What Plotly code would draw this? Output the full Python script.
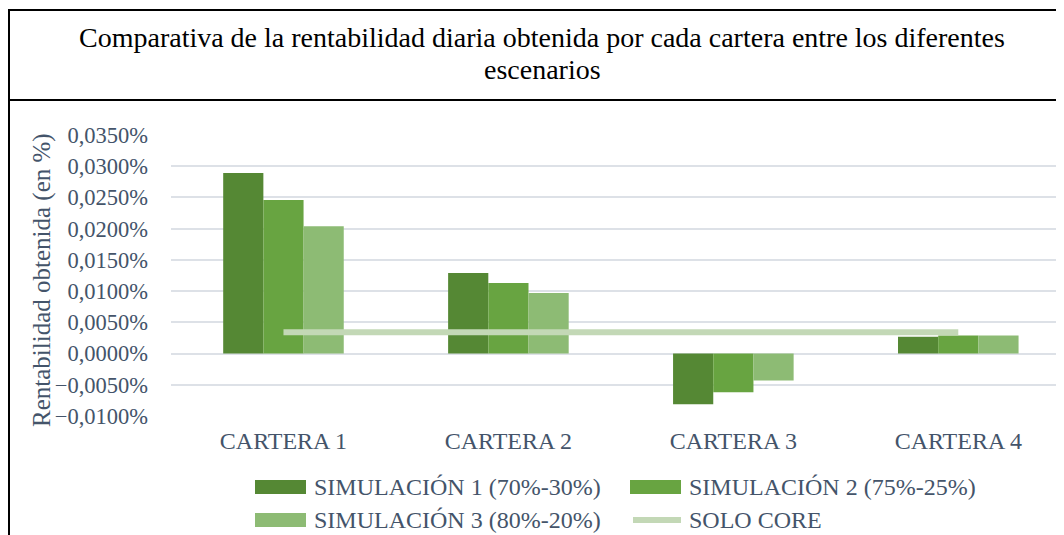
import plotly.graph_objects as go

carteras = ['CARTERA 1', 'CARTERA 2', 'CARTERA 3', 'CARTERA 4']
series = ['SIMULACIÓN 1 (70%-30%)', 'SIMULACIÓN 2 (75%-25%)', 'SIMULACIÓN 3 (80%-20%)']
sim1 = [0.0289, 0.0129, -0.0081, 0.0027]
sim2 = [0.0246, 0.0113, -0.0062, 0.0029]
sim3 = [0.0204, 0.0097, -0.0043, 0.0029]
solo_core = [0.0034, 0.0034, 0.0034, 0.0034]
nombre_core = 'SOLO CORE'
titulo = ['Comparativa de la rentabilidad diaria obtenida por cada cartera entre los diferentes',
          'escenarios']
titulo_y = 'Rentabilidad obtenida (en %)'

COLORES = ['#558834', '#68a441', '#8dbb74']
COR_CORE = '#c3d8b6'
COR_TEXTO = '#44546a'
FUENTE = 'Liberation Serif'

# el div de plotly queda desplazado 8px por el margen del body
OFF = 8
W, H = 1056, 527
L, R, T, B = 163, 0, 127, 119
pw, ph = W - L - R, H - T - B


def px(xs):
    # coordenada de pantalla -> paper
    return (xs - OFF - L) / pw


def py(ys):
    return (H - B - (ys - OFF)) / ph


fig = go.Figure()
for nombre, vals, col in zip(series, [sim1, sim2, sim3], COLORES):
    fig.add_trace(go.Bar(x=carteras, y=vals, name=nombre, marker_color=col,
                         marker_line_width=0, showlegend=False))

fig.add_trace(go.Scatter(x=carteras, y=solo_core, name=nombre_core, mode='lines',
                         line=dict(color=COR_CORE, width=6), showlegend=False))

# marco del gráfico y caja del título
borde = dict(color='black', width=2)
fig.add_shape(type='line', xref='paper', yref='paper', x0=px(9), x1=px(1070), y0=py(10), y1=py(10), line=borde)
fig.add_shape(type='line', xref='paper', yref='paper', x0=px(9), x1=px(1070), y0=py(100), y1=py(100), line=borde)
fig.add_shape(type='line', xref='paper', yref='paper', x0=px(9), x1=px(9), y0=py(9), y1=py(545), line=borde)

for linea, ys in zip(titulo, [38, 70]):
    fig.add_annotation(text=linea, xref='paper', yref='paper', x=px(542), y=py(ys),
                       xanchor='center', yanchor='middle', showarrow=False,
                       font=dict(family=FUENTE, size=28, color='black'))

fig.add_annotation(text=titulo_y, xref='paper', yref='paper', x=px(42), y=py(280),
                   xanchor='center', yanchor='middle', textangle=-90, showarrow=False,
                   font=dict(family=FUENTE, size=25, color=COR_TEXTO))

# leyenda dibujada a mano (símbolos anchos como en Excel)
items = [(series[0], COLORES[0], 'bar'), (series[1], COLORES[1], 'bar'),
         (series[2], COLORES[2], 'bar'), (nombre_core, COR_CORE, 'line')]
posiciones = [(255, 487), (630, 487), (255, 520), (630, 520)]
for (texto, col, tipo), (x0, yc) in zip(items, posiciones):
    if tipo == 'bar':
        fig.add_shape(type='rect', xref='paper', yref='paper', x0=px(x0), x1=px(x0 + 51),
                      y0=py(yc - 7), y1=py(yc + 7), fillcolor=col, line_width=0)
    else:
        fig.add_shape(type='line', xref='paper', yref='paper', x0=px(x0 + 3), x1=px(x0 + 51),
                      y0=py(yc), y1=py(yc), line=dict(color=col, width=6))
    fig.add_annotation(text=texto, xref='paper', yref='paper', x=px(x0 + 57), y=py(yc),
                       xanchor='left', yanchor='middle', showarrow=False,
                       font=dict(family=FUENTE, size=24, color=COR_TEXTO))

fig.update_layout(
    width=W, height=H,
    margin=dict(l=L, r=R, t=T, b=B),
    separators=',.',
    barmode='group', bargap=0.464, bargroupgap=0,
    plot_bgcolor='white', paper_bgcolor='white',
    showlegend=False,
    font=dict(family=FUENTE, size=22, color=COR_TEXTO),
    xaxis=dict(range=[-0.5, 3.47], showgrid=False, showline=False, ticks='',
               tickfont=dict(size=24, color=COR_TEXTO), ticklabelstandoff=8),
    yaxis=dict(range=[-0.0100, 0.0350], dtick=0.005, tick0=0, tickformat='.4f', ticksuffix='%',
               showgrid=True, gridcolor='#dde1e7', gridwidth=2, zeroline=True,
               zerolinecolor='#dde1e7', zerolinewidth=2, showline=False, ticks='',
               tickfont=dict(size=22.5, color=COR_TEXTO), ticklabelstandoff=22),
)

fig.write_html('out.html')
